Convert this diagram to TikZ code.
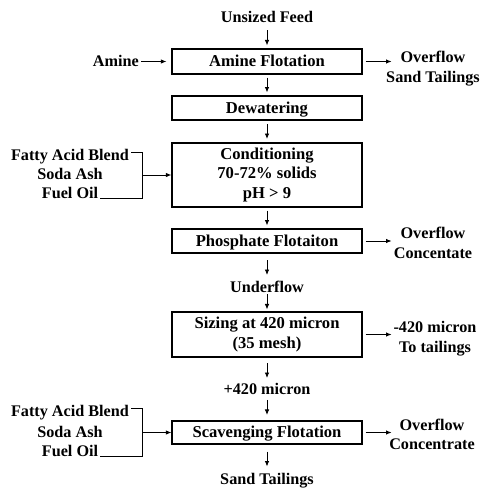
\documentclass[tikz,border=0pt]{standalone}
\usepackage{fontspec}
\setmainfont{Liberation Serif}
\usetikzlibrary{arrows.meta,calc}
\begin{document}
\begin{tikzpicture}[x=1pt,y=-1pt,
  font=\fontsize{16.2}{19.5}\selectfont\bfseries,
  box/.style={draw, line width=1.2pt, minimum width=190pt, inner sep=0pt, text height=10.7pt, text depth=0pt, font=\fontsize{16.6}{19.5}\selectfont\bfseries},
  mbox/.style={draw, line width=1.2pt, minimum width=190pt, inner sep=0pt, align=center, font=\fontsize{16.6}{19.5}\selectfont\bfseries},
  lbl/.style={inner sep=0pt, text height=10.7pt, text depth=0pt},
  mlbl/.style={inner sep=0pt, align=center},
  arr/.style={-{Latex[length=5.5pt,width=4.5pt]}, line width=0.9pt},
  brk/.style={line width=0.8pt}]
\useasboundingbox (0,0) rectangle (483,488);

% main column
\node[lbl] (feed) at (267,17) {Unsized Feed};
\node[box, minimum height=25pt] (b1) at (267,61.5) {Amine Flotation};
\node[box, minimum height=24pt] (b2) at (267,108) {Dewatering};
\node[mbox, minimum height=64pt] (b3) at (267,175) {Conditioning\\70-72\% solids\\pH > 9};
\node[box, minimum height=24pt] (b4) at (267,241) {Phosphate Flotaiton};
\node[lbl] (uf) at (267,287) {Underflow};
\node[mbox, minimum height=45pt] (b5) at (267,334.5) {Sizing at 420 micron\\(35 mesh)};
\node[lbl] (p420) at (267,389) {+420 micron};
\node[box, minimum height=23pt] (b6) at (267,432.5) {Scavenging Flotation};
\node[lbl] (st) at (267,479) {Sand Tailings};

\draw[arr] ($(feed.south)!.5!(b1.north)$) ++(0,-5) -- ++(0,15);
\foreach \a/\b in {b1/b2,b2/b3,b3/b4,b4/uf,uf/b5,b5/p420,p420/b6,b6/st}
  \draw[arr] ($(\a.south)!.5!(\b.north)$) ++(0,-7.5) -- ++(0,15);

% amine input
\node[lbl, anchor=east] (am) at (139,61.5) {Amine};
\draw[arr, shorten <=2pt, shorten >=5pt] (am.east) -- (am.east -| b1.west);

% right outputs
\node[mlbl] (o1) at (433,68.5) {Overflow\\Sand Tailings};
\node[mlbl] (o2) at (433,243) {Overflow\\Concentate};
\node[mlbl] (o3) at (435,338.5) {-420 micron\\To tailings};
\node[mlbl] (o4) at (432,434.4) {Overflow\\Concentrate};
\coordinate (e1) at ([xshift=29pt]b1.east);
\coordinate (e2) at ([xshift=29pt]b4.east);
\coordinate (e3) at ([xshift=29pt]b5.east);
\coordinate (e4) at ([xshift=29pt]b6.east);
\draw[arr, shorten <=3pt] (b1.east) -- (e1);
\draw[arr, shorten <=3pt] (b4.east) -- (e2);
\draw[arr, shorten <=3pt] (b5.east) -- (e3);
\draw[arr, shorten <=3pt] (b6.east) -- (e4);

% reagent inputs to conditioning
\node[lbl] (fa1) at (70,155) {Fatty Acid Blend};
\node[lbl] (sa1) at (70,174) {Soda Ash};
\node[lbl] (fo1) at (70,193) {Fuel Oil};
\coordinate (j1) at ([xshift=-29pt]b3.west);
\draw[brk] ([shift={(2pt,3pt)}]fa1.east) -| (j1) |- ([shift={(2pt,-5.5pt)}]fo1.east);
\draw[arr] (j1) -- (b3.west);

% reagent inputs to scavenging
\node[lbl] (fa2) at (70,411) {Fatty Acid Blend};
\node[lbl] (sa2) at (70,432) {Soda Ash};
\node[lbl] (fo2) at (70,451) {Fuel Oil};
\coordinate (j2) at ([xshift=-29pt]b6.west);
\draw[brk] ([shift={(2pt,2.5pt)}]fa2.east) -| (j2) |- ([shift={(2pt,-5pt)}]fo2.east);
\draw[arr] (j2) -- (b6.west);
\end{tikzpicture}
\end{document}
